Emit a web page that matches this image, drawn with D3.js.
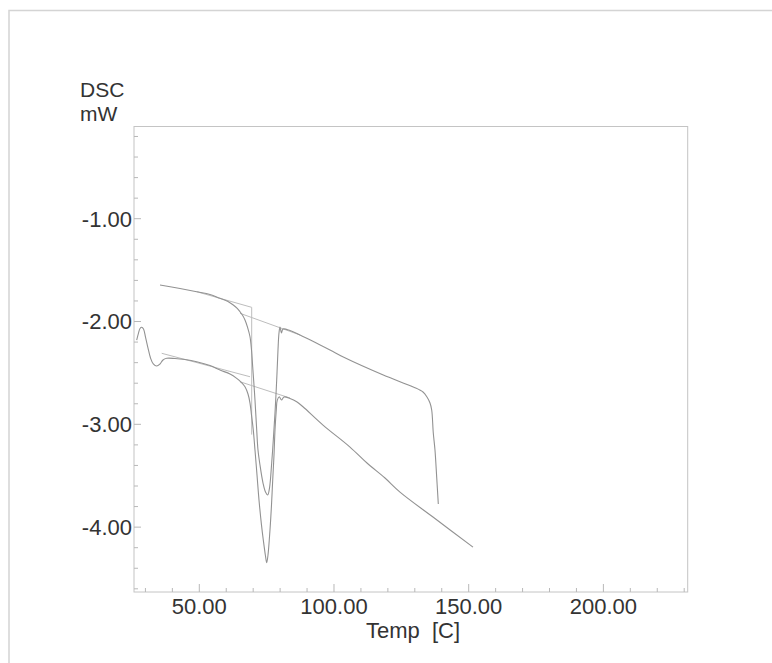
<!DOCTYPE html>
<html>
<head>
<meta charset="utf-8">
<script src="https://cdn.jsdelivr.net/npm/d3@7"></script>
<style>
  html, body { margin: 0; padding: 0; background: #fff; }
  svg { display: block; }
  text { font-family: "Liberation Sans", Arial, sans-serif; fill: #333; }
</style>
</head>
<body>
<svg id="chart" width="772" height="663"></svg>
<script>
// ---- data (Temp [C], DSC [mW]) ----
const run1Temp = [35.41, 42.84, 49.03, 53.97, 57.68, 60.65, 62.62, 63.99, 65.11, 66.22, 66.96, 67.89, 68.82, 69.38, 69.82, 70.30, 70.67, 71.31, 71.79, 72.53, 73.65, 74.57, 75.39, 76.06, 76.87, 77.47, 78.10, 78.73, 79.21, 79.58, 79.96, 80.51, 81.07, 83.67, 87.38, 98.51, 103.45, 118.30, 129.43, 133.04, 134.52, 135.64, 136.27, 136.86, 137.49, 138.12, 138.72];
const run1DSC  = [-1.645, -1.679, -1.710, -1.737, -1.774, -1.805, -1.839, -1.869, -1.905, -1.946, -1.985, -2.054, -2.148, -2.277, -2.440, -2.618, -2.764, -3.055, -3.250, -3.396, -3.571, -3.659, -3.688, -3.620, -3.377, -3.153, -2.890, -2.569, -2.277, -2.112, -2.053, -2.112, -2.073, -2.088, -2.131, -2.277, -2.345, -2.520, -2.637, -2.686, -2.734, -2.793, -2.861, -3.085, -3.250, -3.513, -3.775];

const run2Temp = [26.76, 27.43, 27.99, 28.62, 29.29, 30.03, 30.96, 31.89, 32.92, 34.19, 35.41, 36.53, 37.90, 40.98, 44.69, 49.03, 53.97, 57.68, 61.40, 63.88, 65.48, 66.96, 68.08, 68.82, 69.38, 70.04, 70.67, 71.42, 72.16, 73.09, 73.76, 74.57, 75.02, 75.50, 76.24, 76.80, 77.25, 77.73, 78.10, 78.58, 78.95, 79.70, 80.51, 81.44, 83.67, 86.15, 88.49, 95.92, 105.94, 112.25, 118.93, 124.50, 136.75, 151.60];
const run2DSC  = [-2.180, -2.112, -2.068, -2.056, -2.073, -2.151, -2.258, -2.355, -2.413, -2.433, -2.413, -2.374, -2.358, -2.360, -2.370, -2.391, -2.428, -2.472, -2.511, -2.553, -2.589, -2.634, -2.705, -2.793, -2.910, -3.055, -3.250, -3.493, -3.736, -3.980, -4.125, -4.281, -4.346, -4.271, -4.028, -3.785, -3.541, -3.298, -3.055, -2.861, -2.764, -2.732, -2.764, -2.734, -2.749, -2.780, -2.829, -3.007, -3.221, -3.376, -3.522, -3.659, -3.902, -4.194];

// baseline construction lines (analysis aids): [T1, v1, T2, v2]
const guideLines = [
  [49.03, -1.710, 69.45, -1.862],   // run 1 onset tangent
  [69.45, -1.862, 69.45, -3.10],    // run 1 onset drop
  [65.11, -1.920, 87.38, -2.131],   // run 1 end baseline
  [36.04, -2.309, 68.82, -2.537],   // run 2 onset tangent
  [65.11, -2.586, 83.67, -2.744]    // run 2 end baseline
];

const xMajorTicks = [50, 100, 150, 200];
const xMinorTicks = d3.range(30, 231, 10);
const yMajorTicks = [-1, -2, -3, -4];
const yMinorTicks = d3.range(-0.2, -4.61, -0.2);
const xDomain = [25.76, 231.3];
const yDomain = [-4.631, -0.103];

// ---- layout ----
const svg = d3.select("#chart");
const plot = { left: 134, right: 687.7, top: 126.5, bottom: 592 };

const x = d3.scaleLinear().domain(xDomain).range([plot.left, plot.right]);
const y = d3.scaleLinear().domain(yDomain).range([plot.bottom, plot.top]);

svg.append("rect").attr("width", 772).attr("height", 663).attr("fill", "#fff");

// outer page frame
svg.append("path")
  .attr("d", "M9,663 L9,10.5 L772,10.5")
  .attr("fill", "none").attr("stroke", "#d4d4d4").attr("stroke-width", 1.5);

// plot box
svg.append("rect")
  .attr("x", plot.left).attr("y", plot.top)
  .attr("width", plot.right - plot.left).attr("height", plot.bottom - plot.top)
  .attr("fill", "none").attr("stroke", "#c4c4c4").attr("stroke-width", 1);

// ticks
const tickColor = "#b8b8b8";
svg.append("g").selectAll("line").data(xMinorTicks).join("line")
  .attr("x1", d => x(d)).attr("x2", d => x(d))
  .attr("y1", plot.bottom).attr("y2", d => plot.bottom - (xMajorTicks.includes(d) ? 8 : 4))
  .attr("stroke", tickColor);
svg.append("g").selectAll("line").data(yMinorTicks).join("line")
  .attr("y1", d => y(d)).attr("y2", d => y(d))
  .attr("x1", plot.left).attr("x2", d => plot.left + (yMajorTicks.some(m => Math.abs(m - d) < 1e-6) ? 7 : 4))
  .attr("stroke", tickColor);

// tick labels
svg.append("g").selectAll("text").data(xMajorTicks).join("text")
  .attr("x", d => x(d)).attr("y", 614)
  .attr("text-anchor", "middle").attr("font-size", 22)
  .text(d => d3.format(".2f")(d));
svg.append("g").selectAll("text").data(yMajorTicks).join("text")
  .attr("x", plot.left - 2).attr("y", d => y(d)).attr("dy", "0.36em")
  .attr("text-anchor", "end").attr("font-size", 22)
  .text(d => d3.format(".2f")(d).replace("−", "-"));

// axis titles
svg.append("text").attr("x", 80).attr("y", 97).attr("font-size", 21).text("DSC");
svg.append("text").attr("x", 80).attr("y", 121).attr("font-size", 21).text("mW");
svg.append("text").attr("x", 413).attr("y", 638).attr("text-anchor", "middle")
  .attr("font-size", 22).attr("xml:space", "preserve").text("Temp  [C]");

// guide lines
svg.append("g").selectAll("line").data(guideLines).join("line")
  .attr("x1", d => x(d[0])).attr("y1", d => y(d[1]))
  .attr("x2", d => x(d[2])).attr("y2", d => y(d[3]))
  .attr("stroke", "#bdbdbd").attr("stroke-width", 1);

// curves
const line = d3.line().x(d => x(d[0])).y(d => y(d[1])).curve(d3.curveCatmullRom.alpha(0.5));
const run1 = run1Temp.map((t, i) => [t, run1DSC[i]]);
const run2 = run2Temp.map((t, i) => [t, run2DSC[i]]);
svg.append("path").datum(run1).attr("d", line)
  .attr("fill", "none").attr("stroke", "#929292").attr("stroke-width", 1.1);
svg.append("path").datum(run2).attr("d", line)
  .attr("fill", "none").attr("stroke", "#929292").attr("stroke-width", 1.1);
</script>
</body>
</html>
